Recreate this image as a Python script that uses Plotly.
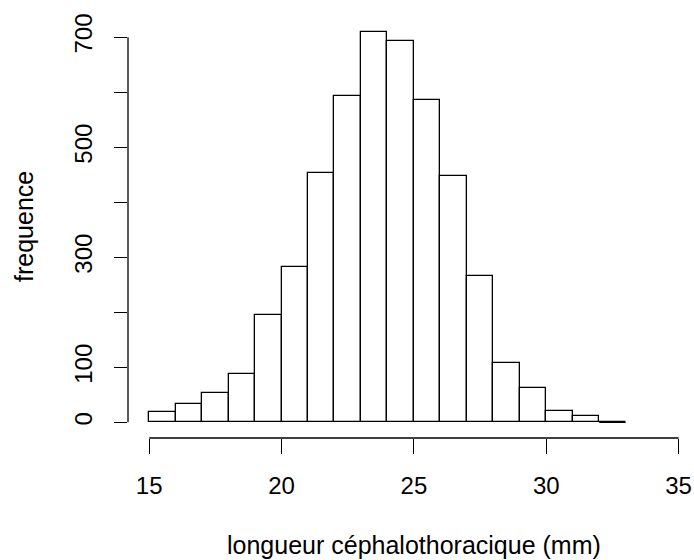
import plotly.graph_objects as go

# Data: histogram of cephalothoracic length (bins of 1 mm from 15 to 33)
bin_edges = [15, 16, 17, 18, 19, 20, 21, 22, 23, 24, 25, 26, 27, 28, 29, 30, 31, 32, 33]
counts = [18, 33, 53, 88, 196, 283, 453, 593, 710, 693, 585, 448, 266, 108, 62, 21, 11, 0]
x_ticks = [15, 20, 25, 30, 35]
y_ticks = [0, 100, 200, 300, 400, 500, 600, 700]
y_ticklabels = ["0", "100", "", "300", "", "500", "", "700"]
x_title = "longueur céphalothoracique (mm)"
y_title = "frequence"

FONT = "Liberation Sans, Arial, sans-serif"
W, H = 694, 560
LINE_W = 1.3

centers = [(a + b) / 2 for a, b in zip(bin_edges[:-1], bin_edges[1:])]
widths = [b - a for a, b in zip(bin_edges[:-1], bin_edges[1:])]

# R-style axis extension (4%)
xlim = (x_ticks[0], x_ticks[-1])
ylim = (0, max(counts))
xpad = 0.04 * (xlim[1] - xlim[0])
ypad = 0.04 * (ylim[1] - ylim[0])

ml, mr, mt, mb = 128, 0, 16, 122
plot_w = W - ml - mr
px_per_unit = 26.47
x_range = [xlim[0] - xpad, xlim[0] - xpad + plot_w / px_per_unit]
y_range = [ylim[0] - ypad, ylim[1] + ypad]

fig = go.Figure()
fig.add_trace(go.Bar(
    x=centers, y=counts, width=widths,
    marker=dict(color="white", line=dict(color="black", width=LINE_W)),
    hoverinfo="skip", showlegend=False,
))
# zero-count bins are drawn as flat lines (as R does)
zx, zy = [], []
for a, b, c in zip(bin_edges[:-1], bin_edges[1:], counts):
    if c == 0:
        zx += [a, b, None]
        zy += [0, 0, None]
if zx:
    fig.add_trace(go.Scatter(
        x=zx, y=zy, mode="lines", line=dict(color="black", width=LINE_W),
        hoverinfo="skip", showlegend=False,
    ))

# partial axis lines like R's axis()
fig.add_shape(type="line", xref="x", yref="paper", x0=x_ticks[0], x1=x_ticks[-1], y0=0, y1=0,
              line=dict(color="black", width=LINE_W))
fig.add_shape(type="line", xref="paper", yref="y", x0=0, x1=0, y0=y_ticks[0], y1=y_ticks[-1],
              line=dict(color="black", width=LINE_W))

fig.add_annotation(text=x_title, xref="x", yref="paper", x=(xlim[0] + xlim[1]) / 2, y=0,
                   xanchor="center", yanchor="top", yshift=-91, showarrow=False,
                   font=dict(family=FONT, size=25, color="black"))
fig.add_annotation(text=y_title, xref="paper", yref="paper", x=0, y=0.5,
                   xanchor="center", yanchor="middle", xshift=-104, textangle=-90, showarrow=False,
                   font=dict(family=FONT, size=25, color="black"))

fig.update_layout(
    width=W, height=H,
    margin=dict(l=ml, r=mr, t=mt, b=mb),
    paper_bgcolor="white", plot_bgcolor="white",
    bargap=0,
    xaxis=dict(range=x_range, showgrid=False, zeroline=False, showline=False,
               tickmode="array", tickvals=x_ticks, ticktext=[str(v) for v in x_ticks],
               ticks="outside", ticklen=15, tickwidth=LINE_W, tickcolor="black",
               ticklabelstandoff=11, ticklabeloverflow="allow",
               tickfont=dict(family=FONT, size=24, color="black")),
    yaxis=dict(range=y_range, showgrid=False, zeroline=False, showline=False,
               tickmode="array", tickvals=y_ticks, ticktext=y_ticklabels,
               ticks="outside", ticklen=13, tickwidth=LINE_W, tickcolor="black",
               tickangle=-90, ticklabelstandoff=12,
               tickfont=dict(family=FONT, size=24, color="black")),
)

fig.write_html(
    "out.html",
    config={"displayModeBar": False},
    post_script="document.body.style.margin='0';document.body.style.overflow='hidden';",
)
